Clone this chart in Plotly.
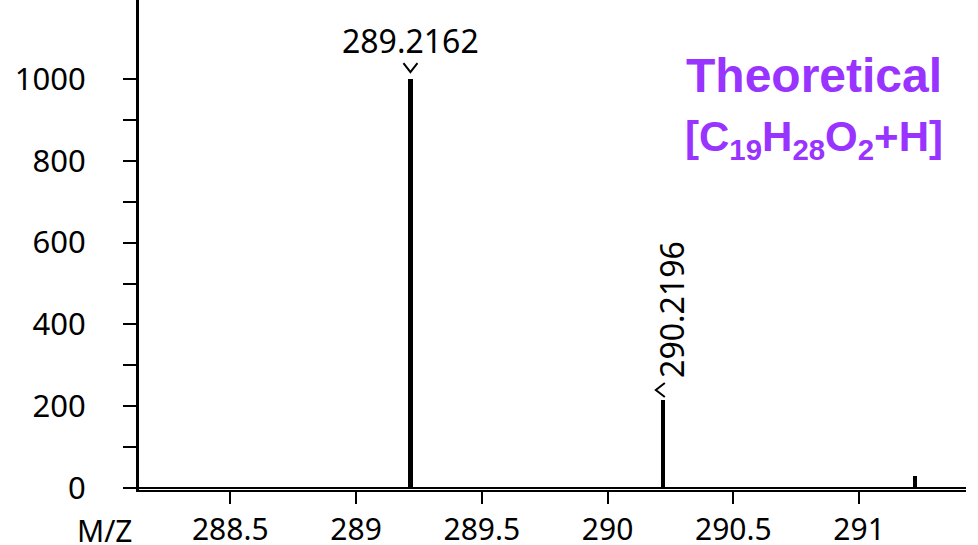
import plotly.graph_objects as go

# Theoretical isotope pattern for [C19H28O2+H]+
mz = [289.2162, 290.2196, 291.2229]
intensity = [1000, 215, 29]

# peaks that carry an m/z label
label_mz = [289.2162, 290.2196]
label_int = [1000, 215]

x_ticks = [288.5, 289, 289.5, 290, 290.5, 291]
x_tick_text = ["288.5", "289", "289.5", "290", "290.5", "291"]
y_ticks = [0, 200, 400, 600, 800, 1000]
y_minor_ticks = [100, 300, 500, 700, 900]

tick_font = dict(family="Noto Sans, DejaVu Sans, sans-serif", size=31, color="black")
xtick_font = dict(tick_font, size=30)
peak_font = dict(family="Noto Sans, DejaVu Sans, sans-serif", size=32, color="black")
title_font = dict(family="Liberation Sans, Arial, sans-serif", size=48, color="#9933FF", weight="bold")

fig = go.Figure()
fig.add_bar(
    x=mz, y=intensity, width=0.018,
    marker=dict(color="black", line=dict(width=0)),
    hoverinfo="x+y",
)

annotations = []
# horizontal label above the base peak
annotations.append(dict(
    x=label_mz[0], y=label_int[0], xref="x", yref="y",
    text=f"{label_mz[0]:.4f}", showarrow=False, font=peak_font,
    xanchor="center", yanchor="middle", yshift=39,
))
# vertical label next to the isotope peak
annotations.append(dict(
    x=label_mz[1], y=label_int[1], xref="x", yref="y",
    text=f"{label_mz[1]:.4f}", showarrow=False, font=peak_font, textangle=-90,
    xanchor="center", yanchor="middle", xshift=8, yshift=91,
))
# axis caption for m/z
annotations.append(dict(
    x=0, y=0, xref="paper", yref="paper", text="M/Z", showarrow=False,
    font=xtick_font, xanchor="right", yanchor="middle", xshift=-4, yshift=-40,
))
# compound title
annotations.append(dict(
    x=0.659, y=1, xref="paper", yref="paper", text="Theoretical",
    showarrow=False, font=title_font, xanchor="left", yanchor="middle", yshift=-75,
))
annotations.append(dict(
    x=0.658, y=1, xref="paper", yref="paper",
    text="[C<sub>19</sub>H<sub>28</sub>O<sub>2</sub>+H]",
    showarrow=False, font=dict(title_font, size=42), xanchor="left",
    yanchor="middle", yshift=-139,
))

# small chevrons marking the labelled peaks (pixel offsets around each peak top)
chevron_paths = ["M-7,16 L0,7 L7,16", "M2,17 L-7,10 L2,3"]
shapes = []
for px, py, path in zip(label_mz, label_int, chevron_paths):
    shapes.append(dict(
        type="path", xref="x", yref="y",
        xsizemode="pixel", ysizemode="pixel", xanchor=px, yanchor=py,
        path=path, line=dict(color="black", width=2),
    ))

fig.update_layout(
    width=978, height=545,
    margin=dict(l=139, r=12, t=0, b=55, autoexpand=False),
    paper_bgcolor="white", plot_bgcolor="white",
    showlegend=False, bargap=0,
    annotations=annotations,
    shapes=shapes,
    xaxis=dict(
        range=[288.137, 291.425], automargin=False,
        tickmode="array", tickvals=x_ticks, ticktext=x_tick_text,
        ticks="outside", ticklen=12, tickwidth=2, tickcolor="black",
        showline=True, linewidth=2, linecolor="black",
        showgrid=False, zeroline=False,
        tickfont=xtick_font, ticklabelstandoff=0,
    ),
    yaxis=dict(
        range=[-4.9, 1193.2], automargin=False,
        tickmode="array", tickvals=y_ticks,
        ticks="outside", ticklen=13, tickwidth=2, tickcolor="black",
        minor=dict(tickmode="array", tickvals=y_minor_ticks, ticks="outside",
                   ticklen=13, tickwidth=2, tickcolor="black", showgrid=False),
        showline=True, linewidth=3, linecolor="black",
        showgrid=False, zeroline=True, zerolinecolor="black", zerolinewidth=2,
        tickfont=tick_font, ticklabelstandoff=31,
    ),
)

fig.write_html("out.html")
